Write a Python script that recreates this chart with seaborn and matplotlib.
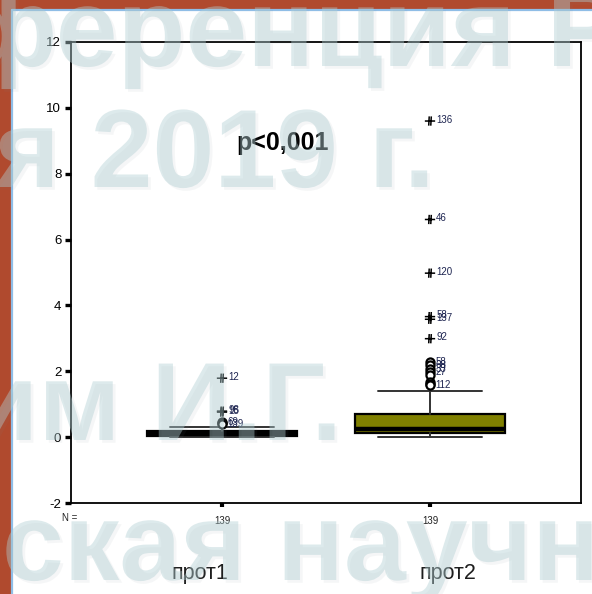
import matplotlib
matplotlib.use("Agg")
import matplotlib.pyplot as plt
import matplotlib.patheffects as pe
from matplotlib.path import Path
from matplotlib.patches import Rectangle
import seaborn as sns

# ---- data -------------------------------------------------------------
groups = ["прот1", "прот2"]
n_obs = [139, 139]

whisker_low = [0.00, 0.00]
q1 = [0.02, 0.13]
median = [0.09, 0.26]
q3 = [0.18, 0.69]
whisker_high = [0.30, 1.39]

# outliers (circles) and extreme values (stars) with case numbers
out1_vals = [0.46, 0.42, 0.40]
out1_ids = ["69", "", "139"]
ext1_vals = [1.79, 0.79, 0.76]
ext1_ids = ["12", "98", "15"]

out2_vals = [2.28, 2.18, 2.08, 1.98, 1.90, 1.68, 1.62, 1.57]
out2_ids = ["58", "68", "33", "27", "", "", "", "112"]
ext2_vals = [9.60, 6.61, 4.98, 3.66, 3.58, 2.99]
ext2_ids = ["136", "46", "120", "58", "137", "92"]

p_text = "p<0,001"

# ---- style ------------------------------------------------------------
sns.set_theme(style="white")
plt.rcParams["font.family"] = ["Liberation Sans", "DejaVu Sans"]
plt.rcParams["axes.unicode_minus"] = False

W, H = 592, 594
fig = plt.figure(figsize=(W / 100, H / 100), dpi=100, facecolor="#b04a2e")

# slide panel with its light blue edge
fig.patches.append(Rectangle((13 / W, 0), 1, 1 - 11 / H, transform=fig.transFigure,
                             facecolor="white", edgecolor="none", zorder=-2))
fig.lines.append(plt.Line2D([12 / W, 12 / W], [0, 1 - 10 / H], transform=fig.transFigure,
                            color="#8fbde6", lw=1.6, zorder=-1))
fig.lines.append(plt.Line2D([12 / W, 1], [1 - 10 / H, 1 - 10 / H], transform=fig.transFigure,
                            color="#8fbde6", lw=1.6, zorder=-1))

ax = fig.add_axes([71 / W, 1 - 503 / H, (581 - 71) / W, (503 - 42) / H])
ax.set_facecolor("white")

positions = [0, 1]
box_colors = ["#808000", "#808000"]

stats = []
for i, g in enumerate(groups):
    stats.append(dict(label=g, whislo=whisker_low[i], q1=q1[i], med=median[i],
                      q3=q3[i], whishi=whisker_high[i], fliers=[]))

bp = ax.bxp(stats, positions=positions, widths=0.72, capwidths=0.5,
            patch_artist=True, showfliers=False,
            boxprops=dict(edgecolor="black", linewidth=1.6),
            medianprops=dict(color="black", linewidth=3.2),
            whiskerprops=dict(color="#333333", linewidth=1.4),
            capprops=dict(color="#333333", linewidth=1.4))
for patch, c in zip(bp["boxes"], box_colors):
    patch.set_facecolor(c)

# extreme-value marker: a cross with a doubled stem
star = Path([(-1, 0), (1, 0), (-0.25, -0.9), (-0.15, 0.9), (0.15, -0.9), (0.25, 0.9)],
            [Path.MOVETO, Path.LINETO, Path.MOVETO, Path.LINETO, Path.MOVETO, Path.LINETO])

out_sets = [(out1_vals, out1_ids), (out2_vals, out2_ids)]
ext_sets = [(ext1_vals, ext1_ids), (ext2_vals, ext2_ids)]
for pos, (vals, ids) in zip(positions, out_sets):
    sns.scatterplot(x=[pos] * len(vals), y=vals, ax=ax, marker="o", s=34,
                    facecolor="white", edgecolor="black", linewidth=1.6, zorder=5)
    for v, t in zip(vals, ids):
        if t:
            ax.annotate(t, (pos, v), xytext=(4, 0), textcoords="offset points",
                        ha="left", va="center", fontsize=7, color="#1d2450", zorder=6)
for pos, (vals, ids) in zip(positions, ext_sets):
    sns.scatterplot(x=[pos] * len(vals), y=vals, ax=ax, marker=star, s=55,
                    facecolor="none", edgecolor="black", linewidth=1.1, zorder=5)
    for v, t in zip(vals, ids):
        ax.annotate(t, (pos, v), xytext=(4.5, 1), textcoords="offset points",
                    ha="left", va="center", fontsize=7, color="#1d2450", zorder=6)

ax.set_xlim(-0.726, 1.726)
ax.set_ylim(-2, 12)
ax.set_yticks(range(-2, 13, 2))
ax.set_xticks(positions)
ax.set_xticklabels([str(n) for n in n_obs], fontsize=7)
ax.tick_params(axis="y", left=True, direction="out", length=4, width=2.4, color="black",
               labelcolor="black", labelsize=9.5, pad=3)
ax.tick_params(axis="x", bottom=True, direction="out", length=3, width=3, color="black",
               labelcolor="#222222", pad=6)
for s in ax.spines.values():
    s.set_color("black")
    s.set_linewidth(1.3)
    s.set_visible(True)
ax.set_xlabel("")
ax.set_ylabel("")

ax.text(0.012, -0.032, "N =", transform=ax.transAxes, ha="right", va="center",
        fontsize=7, color="#222222")

name_x = [-0.106, 1.087]
for x, g in zip(name_x, groups):
    ax.text(x, -0.154, g, transform=ax.get_xaxis_transform(), ha="center", va="center",
            fontsize=15.5, color="#1e1e1e", clip_on=False)

ax.text(283 / W, 1 - 143 / H, p_text, transform=fig.transFigure, ha="center", va="center",
        fontsize=18, fontweight="bold", color="black")

# conference watermark over the slide
wm = dict(transform=fig.transFigure, fontsize=80, fontweight="bold", color="#b0ced2",
          alpha=0.42, ha="left", va="baseline", zorder=20,
          path_effects=[pe.SimplePatchShadow(offset=(2, -2), shadow_rgbFace="#7a8a8e", alpha=0.07),
                        pe.Normal()])
fig.text(-40 / W, 1 - 66 / H, "ференция Р", **wm)
fig.text(-5 / W, 1 - 187 / H, "я 2019 г.", **wm)
fig.text(-30 / W, 1 - 440 / H, "им И.Г.", **wm)
fig.text(2 / W, 1 - 580 / H, "ская научно", **wm)

fig.savefig("out.png", dpi=100, facecolor=fig.get_facecolor())
